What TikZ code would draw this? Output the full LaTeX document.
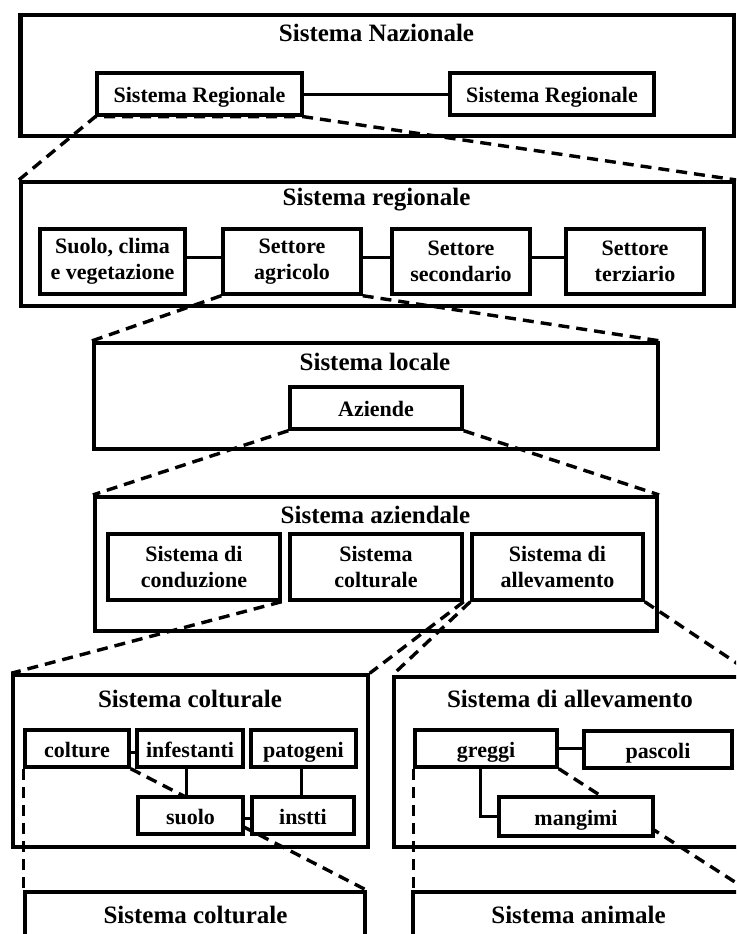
\documentclass[tikz,border=0pt]{standalone}
\usepackage{fontspec}
\setmainfont{Liberation Serif}
\newcommand{\ttlfont}{\fontsize{25}{28}\selectfont\bfseries}
\newcommand{\boxfont}{\fontsize{22}{25.5}\selectfont\bfseries}
\begin{document}
\begin{tikzpicture}[x=1pt,y=-1pt,
  outer/.style={draw, line width=4.2pt, fill=white, inner sep=0pt},
  mid/.style={draw, line width=3.5pt, fill=white, inner sep=0pt},
  inbox/.style={draw, line width=3.4pt, fill=white, inner sep=0pt, font=\boxfont, align=center},
  one/.style={text height=18pt, text depth=1pt},
  ttl/.style={font=\ttlfont, anchor=base, inner sep=0pt},
  conn/.style={line width=3pt},
  zoomln/.style={line width=3.4pt, dash pattern=on 11pt off 7pt}]
\useasboundingbox (0,0) rectangle (736,934);
\clip (0,0) rectangle (736,934);
\fill[white] (0,0) rectangle (736,934);

% ---- containers ----
\node[outer, minimum width=713.5pt, minimum height=121pt] (nat) at (377.25,75.5) {};
\node[outer, minimum width=713pt, minimum height=124pt] (reg) at (377.5,244) {};
\node[outer, minimum width=564pt, minimum height=106pt] (loc) at (376,396) {};
\node[outer, minimum width=562pt, minimum height=134pt] (azi) at (376,564) {};
\node[mid, minimum width=355pt, minimum height=172pt] (bigC) at (190.5,761) {};
\node[mid, minimum width=359pt, minimum height=170pt] (bigA) at (573.5,762) {};
\node[mid, minimum width=340pt, minimum height=80pt] (botC) at (195,932) {};
\node[mid, minimum width=333pt, minimum height=80pt] (botA) at (579.5,932) {};

% ---- titles ----
\node[ttl] (tNat) at (376.5,42) {Sistema Nazionale};
\node[ttl] (tReg) at (376.5,205) {Sistema regionale};
\node[ttl] (tLoc) at (375,370) {Sistema locale};
\node[ttl] (tAzi) at (375.5,523) {Sistema aziendale};
\node[ttl] (tBigC) at (190,707) {Sistema colturale};
\node[ttl] (tBigA) at (570,707) {Sistema di allevamento};
\node[ttl] (tBotC) at (195.5,923) {Sistema colturale};
\node[ttl] (tBotA) at (578.5,923) {Sistema animale};

% ---- level 1 ----
\node[inbox, one, minimum width=205pt, minimum height=42pt] (sr1) at (199.5,94) {Sistema Regionale};
\node[inbox, one, minimum width=204pt, minimum height=42pt] (sr2) at (552,94) {Sistema Regionale};
\draw[conn] (sr1.east) -- (sr2.west);

% ---- level 2 ----
\node[inbox, minimum width=145pt, minimum height=65pt] (suo) at (112.5,261.5) {Suolo, clima\\e vegetazione};
\node[inbox, minimum width=138pt, minimum height=65pt] (agr) at (292,261.5) {Settore\\agricolo};
\node[inbox, minimum width=138pt, minimum height=65pt] (sec) at (461,261.5) {Settore\\secondario};
\node[inbox, minimum width=138pt, minimum height=65pt] (ter) at (635,261.5) {Settore\\terziario};
\draw[conn] ([yshift=4.5pt]suo.east) -- ([yshift=4.5pt]agr.west);
\draw[conn] ([yshift=4.5pt]agr.east) -- ([yshift=4.5pt]sec.west);
\draw[conn] ([yshift=4.5pt]sec.east) -- ([yshift=4.5pt]ter.west);

% ---- level 3 ----
\node[inbox, one, minimum width=172pt, minimum height=42pt] (azn) at (376,408) {Aziende};

% ---- level 4 ----
\node[inbox, minimum width=172pt, minimum height=66pt] (cond) at (194,567) {Sistema di\\conduzione};
\node[inbox, minimum width=172pt, minimum height=66pt] (colt) at (376,567) {Sistema\\colturale};
\node[inbox, minimum width=171pt, minimum height=66pt] (alle) at (557.5,567) {Sistema di\\allevamento};

% ---- zoom lines between levels ----
\draw[zoomln] (reg.north west) -- (sr1.south west) -- (sr1.south east) -- (reg.north east);
\draw[zoomln] (agr.south west) -- (loc.north west);
\draw[zoomln] (agr.south east) -- (loc.north east);
\draw[zoomln] (azn.south west) -- (azi.north west);
\draw[zoomln] (azn.south east) -- (azi.north east);
\draw[zoomln] (cond.south east) -- (bigC.north west);
\draw[zoomln] (colt.south east) -- (bigC.north east);
\draw[zoomln] (alle.south west) -- (bigA.north west);
\draw[zoomln] (alle.south east) -- (bigA.north east);

% ---- level 5: sistema colturale ----
\node[inbox, one, minimum width=104pt, minimum height=37pt] (coltu) at (77,748.5) {colture};
\node[inbox, one, minimum width=106pt, minimum height=37pt] (inf) at (190,748.5) {infestanti};
\node[inbox, one, minimum width=105pt, minimum height=37pt] (pat) at (303.5,748.5) {patogeni};
\draw[zoomln] (coltu.south west) -- (coltu.south west |- botC.north);
\draw[zoomln] (coltu.south east) -- (botC.north east);
\node[inbox, one, minimum width=105pt, minimum height=37pt] (suol) at (190.5,815.5) {suolo};
\node[inbox, one, minimum width=102pt, minimum height=37pt] (ins) at (303,815.5) {instti};
\draw[conn] ([yshift=-3.5pt]coltu.east) -- ([yshift=-3.5pt]inf.west);
\draw[conn] ([xshift=-4pt]inf.south) -- ([xshift=-4pt]inf.south |- suol.north);
\draw[conn] ([xshift=-2.5pt]pat.south) -- ([xshift=-2.5pt]pat.south |- ins.north);
\draw[conn] ([yshift=-2.5pt]suol.east) -- ([yshift=-2.5pt]ins.west);

% ---- level 5: sistema di allevamento ----
\node[inbox, one, minimum width=142pt, minimum height=37pt] (gre) at (486,748.5) {greggi};
\node[inbox, one, minimum width=148pt, minimum height=37pt] (pas) at (658,749.5) {pascoli};
\draw[zoomln] (gre.south west) -- (gre.south west |- botA.north);
\draw[zoomln] (gre.south east) -- (botA.north east);
\node[inbox, one, minimum width=154pt, minimum height=39pt] (man) at (576,816.5) {mangimi};
\draw[conn] (gre.east) -- (gre.east -| pas.west);
\draw[conn] ([xshift=-6pt]gre.south) |- (man.west);
\end{tikzpicture}
\end{document}
